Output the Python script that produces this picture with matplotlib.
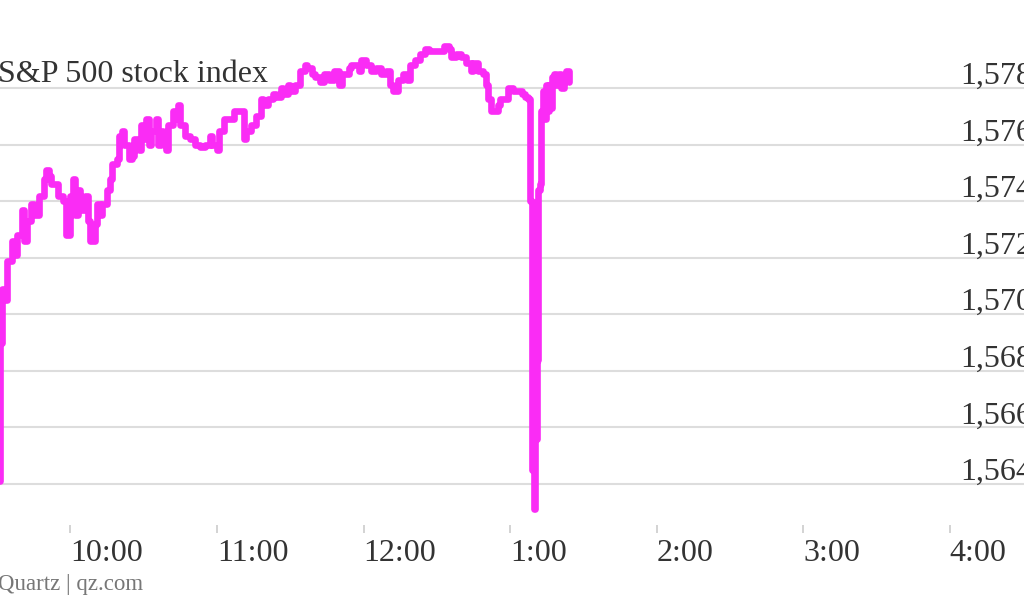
import matplotlib as mpl
import matplotlib.pyplot as plt
import pandas as pd

# S&P 500 intraday, 23 Apr 2013
DAY = "2013-04-23 "

times = [
    "09:30", "09:31", "09:32", "09:33", "09:34", "09:36", "09:37", "09:38",
    "09:40", "09:41", "09:42", "09:44", "09:45", "09:47", "09:49", "09:50",
    "09:51", "09:52", "09:54", "09:55", "09:57", "09:58", "10:00", "10:01",
    "10:02", "10:03", "10:04", "10:06", "10:07", "10:08", "10:10", "10:11",
    "10:12", "10:13", "10:15", "10:16", "10:17", "10:19", "10:20", "10:21",
    "10:22", "10:24", "10:25", "10:26", "10:28", "10:29", "10:30", "10:31",
    "10:32", "10:33", "10:35", "10:36", "10:37", "10:38", "10:39", "10:40",
    "10:42", "10:43", "10:44", "10:45", "10:47", "10:49", "10:51", "10:53",
    "10:55", "10:57", "10:58", "11:00", "11:01", "11:03", "11:05", "11:07",
    "11:09", "11:11", "11:12", "11:14", "11:16", "11:18", "11:19", "11:21",
    "11:23", "11:24", "11:26", "11:27", "11:29", "11:30", "11:32", "11:34",
    "11:36", "11:37", "11:39", "11:40", "11:42", "11:44", "11:46", "11:48",
    "11:50", "11:51", "11:54", "11:55", "11:58", "11:59", "12:01", "12:03",
    "12:05", "12:07", "12:09", "12:11", "12:12", "12:14", "12:16", "12:18",
    "12:19", "12:21", "12:23", "12:25", "12:27", "12:29", "12:31", "12:33",
    "12:35", "12:36", "12:38", "12:40", "12:42", "12:44", "12:45", "12:47",
    "12:49", "12:50", "12:51", "12:52", "12:53", "12:55", "12:56", "12:58",
    "12:59", "13:01", "13:03", "13:05", "13:06", "13:07:20", "13:08:10",
    "13:09:00", "13:09:50", "13:10:10", "13:11:00", "13:11:20", "13:12:10",
    "13:12:40", "13:13:30", "13:14:00", "13:14:40", "13:15:20", "13:16:00",
    "13:16:40", "13:17:20", "13:18", "13:19", "13:20", "13:21", "13:22",
    "13:23", "13:24",
]

values = [
    1564.1, 1569.0, 1570.9, 1570.5, 1571.9, 1572.6, 1572.1, 1572.8,
    1573.7, 1572.6, 1573.3, 1573.9, 1573.5, 1574.2, 1574.8, 1575.1,
    1574.9, 1574.6, 1574.6, 1574.2, 1574.0, 1572.8, 1574.2, 1574.8,
    1573.5, 1574.4, 1573.7, 1574.2, 1573.3, 1572.6, 1573.2, 1573.9,
    1573.5, 1573.9, 1574.4, 1574.8, 1575.3, 1575.5, 1576.3, 1576.5,
    1576.0, 1575.5, 1575.6, 1576.2, 1575.8, 1576.7, 1576.2, 1576.9,
    1576.0, 1576.5, 1576.9, 1576.0, 1576.5, 1576.2, 1575.8, 1576.7,
    1577.2, 1576.9, 1577.4, 1576.7, 1576.3, 1576.2, 1576.0, 1575.9,
    1576.0, 1576.3, 1576.0, 1575.8, 1576.5, 1576.9, 1576.9, 1577.2,
    1577.2, 1576.2, 1576.5, 1576.7, 1577.0, 1577.6, 1577.4, 1577.6,
    1577.8, 1577.7, 1578.0, 1577.8, 1578.1, 1577.9, 1578.1, 1578.6,
    1578.8, 1578.7, 1578.5, 1578.4, 1578.2, 1578.5, 1578.3, 1578.6,
    1578.1, 1578.5, 1578.7, 1578.8, 1578.6, 1579.0, 1578.8, 1578.6,
    1578.7, 1578.5, 1578.6, 1578.1, 1577.9, 1578.3, 1578.5, 1578.3,
    1578.8, 1579.0, 1579.2, 1579.4, 1579.3, 1579.3, 1579.3, 1579.5,
    1579.4, 1579.1, 1579.2, 1579.1, 1578.9, 1578.6, 1578.9, 1578.6,
    1578.5, 1578.1, 1577.6, 1577.2, 1577.2, 1577.4, 1577.6, 1577.6,
    1578.0, 1577.9, 1577.9, 1577.8, 1577.7, 1577.6, 1574.0,
    1564.5, 1563.1, 1565.6, 1568.4, 1574.4, 1574.6,
    1577.2, 1577.9, 1576.9, 1578.1, 1577.2, 1578.1,
    1577.3, 1578.4, 1578.5, 1578.1, 1578.5, 1578.0, 1578.3,
    1578.6, 1578.2,
]

x_ticks = ["10:00", "11:00", "12:00", "13:00", "14:00", "15:00", "16:00"]
x_tick_labels = ["10:00", "11:00", "12:00", "1:00", "2:00", "3:00", "4:00"]
y_ticks = [1564, 1566, 1568, 1570, 1572, 1574, 1576, 1578]

TEXT = "#333333"
GRID = "#dddddd"
LINE = "#fa2cf5"

mpl.rcParams["font.family"] = ["Liberation Serif", "DejaVu Serif"]


def to_dt(t):
    if t.count(":") == 1:
        t = t + ":00"
    return pd.Timestamp(DAY + t)


x = [to_dt(t) for t in times]

fig = plt.figure(figsize=(10.24, 6), dpi=100)
ax = fig.add_axes([0, 0.125, 1, 0.8083])

# gridlines + right-hand labels sitting just above each line
for v in y_ticks:
    ax.axhline(v, color=GRID, lw=1.5, zorder=1)
    ax.annotate(f"{v:,}", xy=(0.9375, v), xycoords=("axes fraction", "data"),
                xytext=(0, 4), textcoords="offset pixels",
                ha="left", va="baseline", fontsize=23, color=TEXT)

ax.plot(x, values, color=LINE, lw=4.8, drawstyle="steps-post",
        solid_joinstyle="round", solid_capstyle="round", zorder=3)

ax.set_xlim(to_dt("09:31:08"), to_dt("16:30:27"))
ax.set_ylim(1562.55, 1579.70)

ax.set_xticks([to_dt(t) for t in x_ticks])
ax.set_xticklabels(x_tick_labels)
ax.tick_params(axis="x", length=5.8, width=1.2, color="#cccccc",
               labelsize=23, labelcolor=TEXT, pad=4)
for lbl in ax.get_xticklabels():
    lbl.set_horizontalalignment("left")
ax.set_yticks([])
for s in ax.spines.values():
    s.set_visible(False)

fig.text(-0.002, 0.863, "S&P 500 stock index", ha="left", va="baseline",
         fontsize=23, color=TEXT)
fig.text(-0.002, 0.016, "Quartz | qz.com", ha="left", va="baseline",
         fontsize=16.5, color="#777777")

fig.savefig("out.png", dpi=100)
